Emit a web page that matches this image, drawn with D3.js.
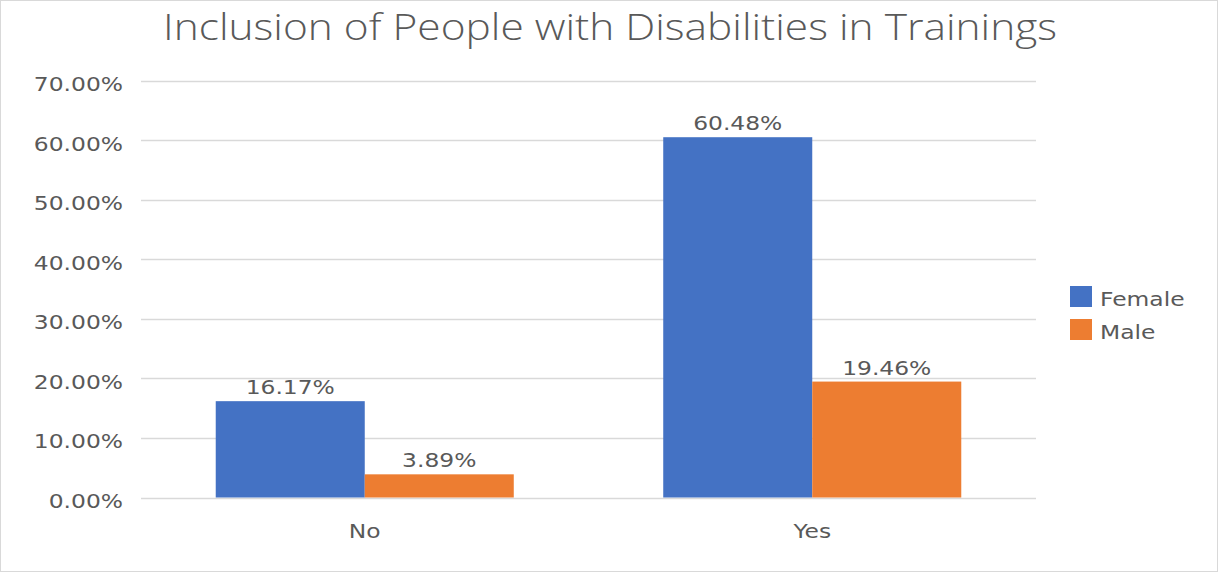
<!DOCTYPE html>
<html><head><meta charset="utf-8">
<script src="https://cdn.jsdelivr.net/npm/d3@7"></script>
<style>html,body{margin:0;padding:0;background:#fff;}</style>
</head><body>
<svg id="chart" width="1219" height="573"></svg>
<script>
const categories = ["No", "Yes"];
const seriesNames = ["Female", "Male"];
const femaleValues = [16.17, 60.48];
const maleValues = [3.89, 19.46];
const yTicks = [0, 10, 20, 30, 40, 50, 60, 70];
const title = "Inclusion of People with Disabilities in Trainings";

const colors = {Female: "#4472C4", Male: "#ED7D31"};
const textColor = "#595959";
const sx = 1.17; // horizontal stretch of the reference text
const font = "DejaVu Sans, Verdana, sans-serif";

const svg = d3.select("#chart");
svg.append("rect").attr("x", 0.5).attr("y", 0.5).attr("width", 1217).attr("height", 571)
  .attr("fill", "#fff").attr("stroke", "#D9D9D9");

const margin = {left: 141, right: 183, top: 80, bottom: 76};
const x0 = d3.scaleBand().domain(categories).range([141, 1036]).paddingInner(0.334).paddingOuter(0.167);
const x1 = d3.scaleBand().domain(seriesNames).range([0, x0.bandwidth()]);
const y = d3.scaleLinear().domain([0, 70]).range([497.5, 80.5]);

function stretchedText(g, xPos, yPos, txt, opts) {
  const t = g.append("g").attr("transform", `translate(${xPos},${yPos}) scale(${sx},1)`)
    .append("text").text(txt)
    .attr("font-family", font).attr("font-size", opts.size || 20)
    .attr("fill", textColor).attr("text-anchor", opts.anchor || "middle");
  return t;
}

// gridlines
const grid = svg.append("g");
grid.selectAll("line").data(yTicks).join("line")
  .attr("x1", 141).attr("x2", 1036)
  .attr("y1", d => Math.round(y(d)) + 0.5).attr("y2", d => Math.round(y(d)) + 0.5)
  .attr("stroke", "#D9D9D9").attr("stroke-width", 1.5);

// y tick labels
const yl = svg.append("g");
yTicks.forEach(t => stretchedText(yl, 123, y(t) + 10.5, t.toFixed(2) + "%", {anchor: "end", size: 20}));

// data rows
const rows = categories.map((c, i) => ({cat: c, values: [
  {name: "Female", value: femaleValues[i]},
  {name: "Male", value: maleValues[i]}
]}));

const groups = svg.append("g").selectAll("g").data(rows).join("g")
  .attr("transform", d => `translate(${x0(d.cat)},0)`);
groups.selectAll("rect").data(d => d.values).join("rect")
  .attr("x", d => x1(d.name)).attr("width", x1.bandwidth())
  .attr("y", d => y(d.value)).attr("height", d => y(0) - y(d.value))
  .attr("fill", d => colors[d.name]);
groups.each(function(d) {
  const g = d3.select(this);
  d.values.forEach(v => {
    stretchedText(g, x1(v.name) + x1.bandwidth() / 2, y(v.value) - 7, v.value.toFixed(2) + "%", {size: 20});
  });
});

// category labels
const xl = svg.append("g");
categories.forEach(c => stretchedText(xl, x0(c) + x0.bandwidth() / 2, 538, c, {size: 20}));

// legend
const lg = svg.append("g");
seriesNames.forEach((s, i) => {
  lg.append("rect").attr("x", 1070).attr("y", 286 + i * 33).attr("width", 22).attr("height", 21)
    .attr("fill", colors[s]);
  stretchedText(lg, 1100, 306 + i * 33, s, {anchor: "start", size: 20});
});

// title
const tt = svg.append("text").text(title)
  .attr("x", 610).attr("y", 40).attr("text-anchor", "middle")
  .attr("font-family", "Open Sans, sans-serif").attr("font-weight", 300)
  .attr("font-size", 37).attr("fill", textColor);
const w = tt.node().getComputedTextLength();
tt.attr("textLength", 894).attr("lengthAdjust", "spacingAndGlyphs");
</script>
</body></html>
